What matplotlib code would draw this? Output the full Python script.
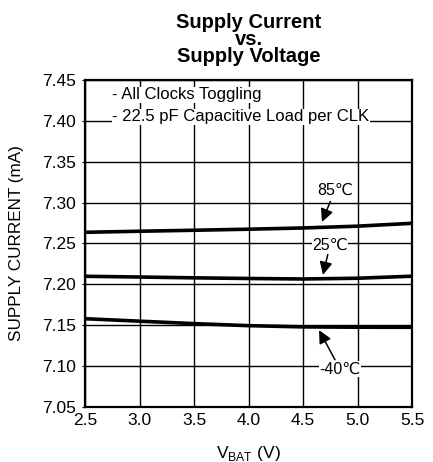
import matplotlib
matplotlib.use("Agg")
import matplotlib.pyplot as plt
import numpy as np

plt.rcParams['font.family'] = ['Liberation Sans', 'DejaVu Sans']
plt.rcParams['mathtext.fontset'] = 'custom'
plt.rcParams['mathtext.rm'] = 'Liberation Sans'

vbat = [2.5, 3.0, 3.5, 4.0, 4.5, 5.0, 5.5]
i_85 = [7.2637, 7.2650, 7.2662, 7.2675, 7.2690, 7.2712, 7.2747]
i_25 = [7.2099, 7.2090, 7.2080, 7.2072, 7.2066, 7.2075, 7.2100]
i_m40 = [7.1580, 7.1550, 7.1520, 7.1495, 7.1480, 7.1476, 7.1475]

xticks = [2.5, 3.0, 3.5, 4.0, 4.5, 5.0, 5.5]
yticks = [7.05, 7.10, 7.15, 7.20, 7.25, 7.30, 7.35, 7.40, 7.45]

fig = plt.figure(figsize=(4.33, 4.62), dpi=100)
ax = fig.add_axes([85/433, 1 - 407/462, 327/433, 327/462])

for y in (i_85, i_25, i_m40):
    ax.plot(vbat, y, color='black', lw=2.6, solid_capstyle='butt', zorder=3)

ax.set_xlim(2.5, 5.5)
ax.set_ylim(7.05, 7.45)
ax.set_xticks(xticks)
ax.set_xticklabels([f"{v:.1f}" for v in xticks])
ax.set_yticks(yticks)
ax.set_yticklabels([f"{v:.2f}" for v in yticks])
ax.tick_params(axis='x', length=0, labelsize=12.5, pad=4)
ax.tick_params(axis='y', length=2.5, width=0.8, labelsize=12.5, pad=4)
ax.grid(True, color='black', lw=1)
for s in ax.spines.values():
    s.set_linewidth(1.6)

ax.set_xlabel("V$_{\\mathrm{BAT}}$ (V)", fontsize=12.5, va='center')
ax.xaxis.set_label_coords(0.5, -0.141)
ax.set_ylabel("SUPPLY CURRENT (mA)", fontsize=12.3, va='center')
ax.yaxis.set_label_coords(-0.211, 0.5)
ax.set_title("Supply Current\nvs.\nSupply Voltage", fontsize=14.5, fontweight='bold',
             linespacing=0.86, pad=13)

bbox = dict(facecolor='white', edgecolor='none', pad=0.5)
ax.text(2.75, 7.4317, "- All Clocks Toggling", fontsize=12, va='center', ha='left', bbox=bbox)
ax.text(2.75, 7.405, "- 22.5 pF Capacitive Load per CLK", fontsize=12, va='center', ha='left', bbox=bbox)

arrowp = dict(arrowstyle='-|>,head_length=0.65,head_width=0.32', color='black', lw=1.1,
              mutation_scale=12, shrinkA=1, shrinkB=0)
ax.annotate("85℃", xy=(4.674, 7.2763), xytext=(4.794, 7.3155), fontsize=11.5,
            ha='center', va='center', arrowprops=arrowp)
ax.annotate("25℃", xy=(4.683, 7.2115), xytext=(4.748, 7.2482), fontsize=11.5,
            ha='center', va='center', arrowprops=arrowp, bbox=bbox)
ax.annotate("-40℃", xy=(4.647, 7.1440), xytext=(4.839, 7.0965), fontsize=11.5,
            ha='center', va='center', arrowprops=arrowp, bbox=bbox)

fig.savefig("out.png", dpi=100)
